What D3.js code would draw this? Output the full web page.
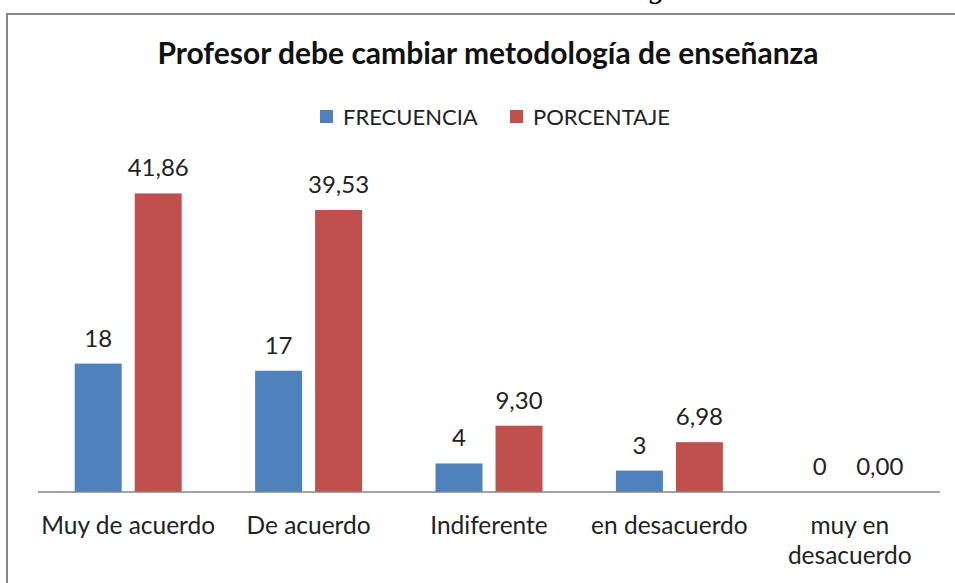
<!DOCTYPE html>
<html>
<head>
<meta charset="utf-8">
<script src="https://cdn.jsdelivr.net/npm/d3@7"></script>
<style>
  body { margin: 0; background: #fff; }
  svg { display: block; }
</style>
</head>
<body>
<div id="chart"></div>
<script>
// datos
const categories = [['Muy de acuerdo'], ['De acuerdo'], ['Indiferente'], ['en desacuerdo'], ['muy en', 'desacuerdo']];
const seriesNames = ['FRECUENCIA', 'PORCENTAJE'];
const frecuencia = [18, 17, 4, 3, 0];
const porcentaje = [41.86, 39.53, 9.30, 6.98, 0.00];

const colors = ['#4f81bd', '#c0504d'];
const width = 955, height = 583;
const font = 'Lato, "Open Sans", sans-serif';

const svg = d3.select('#chart').append('svg')
  .attr('width', width)
  .attr('height', height)
  .style('font-family', font);

// texto recortado de la página de arriba
svg.append('text')
  .attr('x', 647).attr('y', -2)
  .style('font', '28px "DejaVu Serif", serif')
  .text('g');

// borde del gráfico
svg.append('path')
  .attr('d', `M7,${height + 5} V14 H${width + 5}`)
  .attr('fill', 'none')
  .attr('stroke', '#868686')
  .attr('stroke-width', 2);

svg.append('text')
  .attr('x', 488).attr('y', 64)
  .attr('text-anchor', 'middle')
  .style('font-weight', 'bold')
  .style('font-size', '30px')
  .attr('fill', '#111')
  .text('Profesor debe cambiar metodología de enseñanza');

// leyenda
const legendX = [320, 510];
const legend = svg.selectAll('g.legend')
  .data(seriesNames)
  .enter().append('g')
  .attr('class', 'legend')
  .attr('transform', (d, i) => `translate(${legendX[i]}, 117)`);
legend.append('rect')
  .attr('x', 0).attr('y', -7)
  .attr('width', 13).attr('height', 13)
  .attr('fill', (d, i) => colors[i]);
legend.append('text')
  .attr('x', 23).attr('dy', '0.35em')
  .style('font-size', '22px')
  .attr('fill', '#222')
  .text(d => d);

// escalas
const x0 = d3.scaleBand()
  .domain(d3.range(categories.length))
  .range([38, 940]);
const x1 = d3.scaleBand()
  .domain([0, 1])
  .range([0, x0.bandwidth()])
  .paddingInner(0.217)
  .paddingOuter(0.612);
const y = d3.scaleLinear()
  .domain([0, 45])
  .range([492, 171]);

const rows = categories.map((c, i) => ({ i, values: [frecuencia[i], porcentaje[i]] }));
const fmt = [d => d3.format('d')(d), d => d3.format('.2f')(d).replace('.', ',')];

const groups = svg.selectAll('g.cat')
  .data(rows)
  .enter().append('g')
  .attr('class', 'cat')
  .attr('transform', d => `translate(${x0(d.i)}, 0)`);

const cells = groups.selectAll('g')
  .data(d => d.values.map((v, k) => ({ k, v })))
  .enter().append('g');

cells.append('rect')
  .attr('x', d => x1(d.k))
  .attr('y', d => y(d.v))
  .attr('width', x1.bandwidth())
  .attr('height', d => y(0) - y(d.v))
  .attr('fill', d => colors[d.k]);

cells.append('text')
  .attr('x', d => x1(d.k) + x1.bandwidth() / 2)
  .attr('y', d => y(d.v) - 17)
  .attr('text-anchor', 'middle')
  .style('font-size', '24px')
  .attr('fill', '#222')
  .text(d => fmt[d.k](d.v));

// eje
svg.append('line')
  .attr('x1', 38).attr('x2', 940)
  .attr('y1', y(0)).attr('y2', y(0))
  .attr('stroke', '#868686')
  .attr('stroke-width', 1.5);

const labels = svg.selectAll('text.cat')
  .data(categories)
  .enter().append('text')
  .attr('class', 'cat')
  .attr('text-anchor', 'middle')
  .attr('x', (d, i) => x0(i) + x0.bandwidth() / 2)
  .attr('y', 534)
  .style('font-size', '24.5px')
  .attr('fill', '#222');
labels.selectAll('tspan')
  .data(d => d)
  .enter().append('tspan')
  .attr('x', function () { return this.parentNode.getAttribute('x'); })
  .attr('dy', (d, i) => i ? 30 : 0)
  .text(d => d);
</script>
</body>
</html>
